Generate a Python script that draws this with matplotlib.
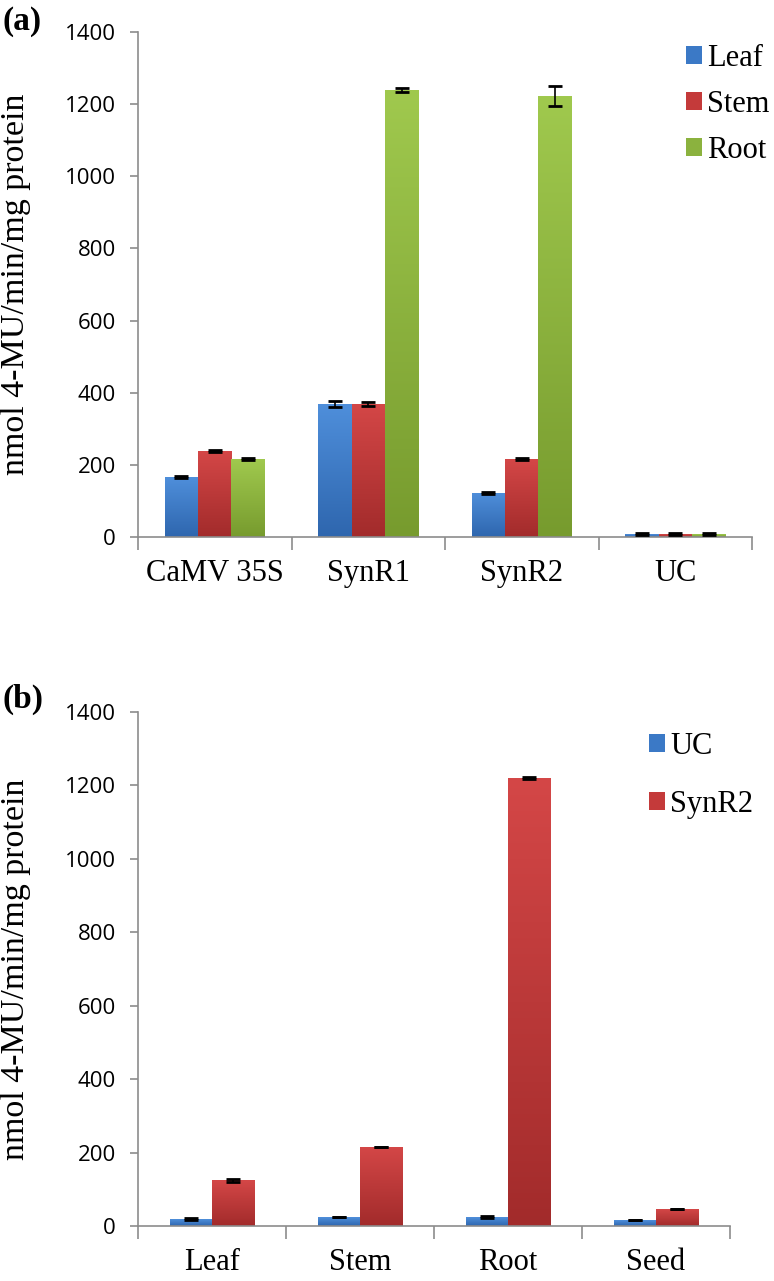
import numpy as np
import matplotlib.pyplot as plt
from matplotlib.colors import LinearSegmentedColormap

# panel (a) data
constructs = ['CaMV 35S', 'SynR1', 'SynR2', 'UC']
tissues_a = ['Leaf', 'Stem', 'Root']
leaf_a = [166, 369, 123, 8]
stem_a = [238, 369, 216, 8]
root_a = [216, 1240, 1222, 8]
leaf_a_err = [3, 8, 3, 2]
stem_a_err = [3, 6, 3, 2]
root_a_err = [2, 5, 28, 2]

# panel (b) data
tissues_b = ['Leaf', 'Stem', 'Root', 'Seed']
series_b = ['UC', 'SynR2']
uc_b = [19, 24, 24, 16]
synr2_b = [125, 216, 1220, 46]
uc_b_err = [3, 0, 3, 0]
synr2_b_err = [4, 0, 3, 0]

grads = {
    'blue': ('#4f8fdb', '#2e66ae'),
    'red': ('#d44747', '#a22b2b'),
    'green': ('#a0c94e', '#779b2e'),
}
solid = {'blue': '#3b79c6', 'red': '#c43a3a', 'green': '#8bb23e'}

serif = ['Liberation Serif', 'DejaVu Serif']
sans = ['Open Sans', 'DejaVu Sans']
axcol = '#8c8c8c'
W, H = 774.0, 1281.0


def grad_bars(ax, bars, cname):
    top, bot = grads[cname]
    cmap = LinearSegmentedColormap.from_list(cname, [bot, top])
    g = np.linspace(0, 1, 256).reshape(-1, 1)
    for p in bars:
        x0, y0 = p.get_x(), p.get_y()
        w, h = p.get_width(), p.get_height()
        im = ax.imshow(g, cmap=cmap, extent=[x0, x0 + w, y0, y0 + h],
                       origin='lower', aspect='auto', zorder=2)
        im.set_clip_path(p)


def style(ax, cats, n, axw_px):
    ax.set_ylim(0, 1400)
    ax.set_xlim(0, n)
    ax.set_yticks(np.arange(0, 1401, 200))
    ax.set_yticklabels([str(v) for v in range(0, 1401, 200)], family=sans, fontsize=16)
    ax.set_xticks(np.arange(0, n + 1))
    ax.set_xticklabels([])
    ax.set_xticks(np.arange(n) + 0.5, minor=True)
    ax.set_xticklabels(cats, minor=True, family=serif, fontsize=22)
    ax.tick_params(axis='x', which='major', length=9, color=axcol, width=1.2)
    ax.tick_params(axis='x', which='minor', length=0, pad=16)
    ax.tick_params(axis='y', length=6, color=axcol, width=1.2, pad=10)
    for s in ['top', 'right']:
        ax.spines[s].set_visible(False)
    for s in ['left', 'bottom']:
        ax.spines[s].set_color(axcol)
        ax.spines[s].set_linewidth(1.2)
    ax.set_ylabel('nmol 4-MU/min/mg protein', family=serif, fontsize=24.5)
    ax.yaxis.set_label_coords(-(138 - 31) / axw_px, 0.5)


fig = plt.figure(figsize=(7.74, 12.81), dpi=100, facecolor='w')
ek = dict(ecolor='black', elinewidth=1.2, capsize=5, capthick=2)
lk = dict(frameon=False, prop={'family': serif, 'size': 22}, handlelength=0.52,
          handleheight=0.52, handletextpad=0.18, borderpad=0, borderaxespad=0,
          loc='upper left')

# (a)
ax1 = fig.add_axes([138 / W, 1 - 537 / H, 614 / W, 505 / H])
x = np.arange(len(constructs)) + 0.5
w = 0.218
for i, (vals, errs, cname, lab) in enumerate(zip([leaf_a, stem_a, root_a],
                                              [leaf_a_err, stem_a_err, root_a_err],
                                              ['blue', 'red', 'green'], tissues_a)):
    b = ax1.bar(x + (i - 1) * w, vals, w, color=solid[cname], label=lab, zorder=2)
    grad_bars(ax1, b, cname)
    ax1.errorbar(x + (i - 1) * w, vals, yerr=errs, fmt='none', zorder=3, **ek)
style(ax1, constructs, len(constructs), 614)
fig.legend(*ax1.get_legend_handles_labels(), bbox_to_anchor=(686 / W, 1 - 44 / H),
           labelspacing=0.55, **lk)
fig.text(2 / W, 1 - 6 / H, '(a)', family=serif, fontsize=24, fontweight='bold', va='top')

# (b)
ax2 = fig.add_axes([138 / W, 1 - 1226 / H, 592 / W, 514 / H])
x = np.arange(len(tissues_b)) + 0.5
w = 0.285
for i, (vals, errs, cname, lab) in enumerate(zip([uc_b, synr2_b], [uc_b_err, synr2_b_err],
                                              ['blue', 'red'], series_b)):
    xs = x + (i - 0.5) * w
    b = ax2.bar(xs, vals, w, color=solid[cname], label=lab, zorder=2)
    grad_bars(ax2, b, cname)
    ax2.errorbar(xs, vals, yerr=errs, fmt='none', zorder=3, **ek)
style(ax2, tissues_b, len(tissues_b), 592)
fig.legend(*ax2.get_legend_handles_labels(), bbox_to_anchor=(649 / W, 1 - 732 / H),
           labelspacing=0.95, **lk)
fig.text(2 / W, 1 - 684 / H, '(b)', family=serif, fontsize=24, fontweight='bold', va='top')

fig.savefig('out.png', dpi=100, facecolor='w')
